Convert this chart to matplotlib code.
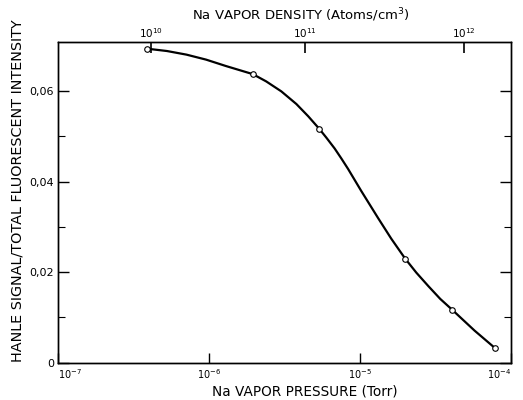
import matplotlib
matplotlib.use("Agg")
import matplotlib.pyplot as plt
from matplotlib.ticker import FixedLocator, NullLocator

# measured points (Torr, ratio)
pressure = [3.88e-7, 1.95e-6, 5.35e-6, 1.99e-5, 4.08e-5, 7.87e-5]
ratio = [0.0692, 0.0637, 0.0517, 0.0230, 0.0117, 0.0032]

# hand drawn curve
curve_p = [4.15e-7, 5.26e-7, 7.09e-7, 9.56e-7, 1.29e-6, 1.95e-6, 2.39e-6,
           3.01e-6, 3.79e-6, 4.54e-6, 5.35e-6, 5.98e-6, 6.79e-6, 7.52e-6,
           8.33e-6, 1.02e-5, 1.32e-5, 1.61e-5, 1.99e-5, 2.36e-5, 2.84e-5,
           3.40e-5, 4.08e-5, 5.74e-5, 7.87e-5]
curve_r = [0.0692, 0.0688, 0.0680, 0.0669, 0.0655, 0.0637, 0.0621,
           0.0599, 0.0571, 0.0544, 0.0517, 0.0497, 0.0473, 0.0451,
           0.0428, 0.0379, 0.0319, 0.0274, 0.0230, 0.0199, 0.0169,
           0.0141, 0.0117, 0.0071, 0.0032]

# density scale on top: pressure where each density tick sits
density_tick_p = [4.15e-7, 4.30e-6, 4.89e-5]
density_labels = ["$10^{10}$", "$10^{11}$", "$10^{12}$"]

x_ticks = [1e-7, 1e-6, 1e-5, 1e-4]
x_labels = ["$10^{-7}$", "$10^{-6}$", "$10^{-5}$", "$10^{-4}$"]
y_ticks = [0, 0.02, 0.04, 0.06]
y_labels = ["0", "0,02", "0,04", "0,06"]
y_minor = [0.01, 0.03, 0.05]

fig = plt.figure(figsize=(5.23, 4.0), dpi=100)
ax = fig.add_axes([0.111, 0.093, 0.866, 0.801])

ax.plot(curve_p, curve_r, color="black", lw=1.6, zorder=2)
ax.plot(pressure, ratio, "o", ms=4, mfc="white", mec="black", mew=0.8, zorder=3)

ax.set_xscale("log")
ax.set_xlim(1e-7, 1e-4)
ax.set_ylim(0, 0.0707)

ax.xaxis.set_major_locator(FixedLocator(x_ticks))
ax.xaxis.set_minor_locator(NullLocator())
ax.set_xticklabels(x_labels)
ax.set_yticks(y_ticks)
ax.set_yticklabels(y_labels)
ax.yaxis.set_minor_locator(FixedLocator(y_minor))

ax.tick_params(which="major", direction="in", length=8, width=1, labelsize=8,
               right=True, pad=3)
ax.tick_params(which="minor", direction="in", length=5, width=0.8, right=True)
ax.tick_params(axis="x", length=7, pad=3, labelsize=7)
xl = ax.get_xticklabels()
xl[0].set_ha("left")
xl[-1].set_ha("right")

ax.set_xlabel("Na VAPOR PRESSURE (Torr)", fontsize=9.8)
ax.xaxis.set_label_coords(0.545, -0.068)
ax.set_ylabel("HANLE SIGNAL/TOTAL FLUORESCENT INTENSITY", fontsize=10.4)
ax.yaxis.set_label_coords(-0.074, 0.536)

top = ax.twiny()
top.set_xscale("log")
top.set_xlim(ax.get_xlim())
top.xaxis.set_major_locator(FixedLocator(density_tick_p))
top.xaxis.set_minor_locator(NullLocator())
top.set_xticklabels(density_labels)
top.tick_params(direction="in", length=8, width=1.2, labelsize=7.5, pad=2)
top.set_xlabel("Na VAPOR DENSITY (Atoms/cm$^3$)", fontsize=9.5)
top.xaxis.set_label_coords(0.536, 1.07)

for a in (ax, top):
    for s in a.spines.values():
        s.set_linewidth(1)

fig.savefig("out.png", dpi=100)
